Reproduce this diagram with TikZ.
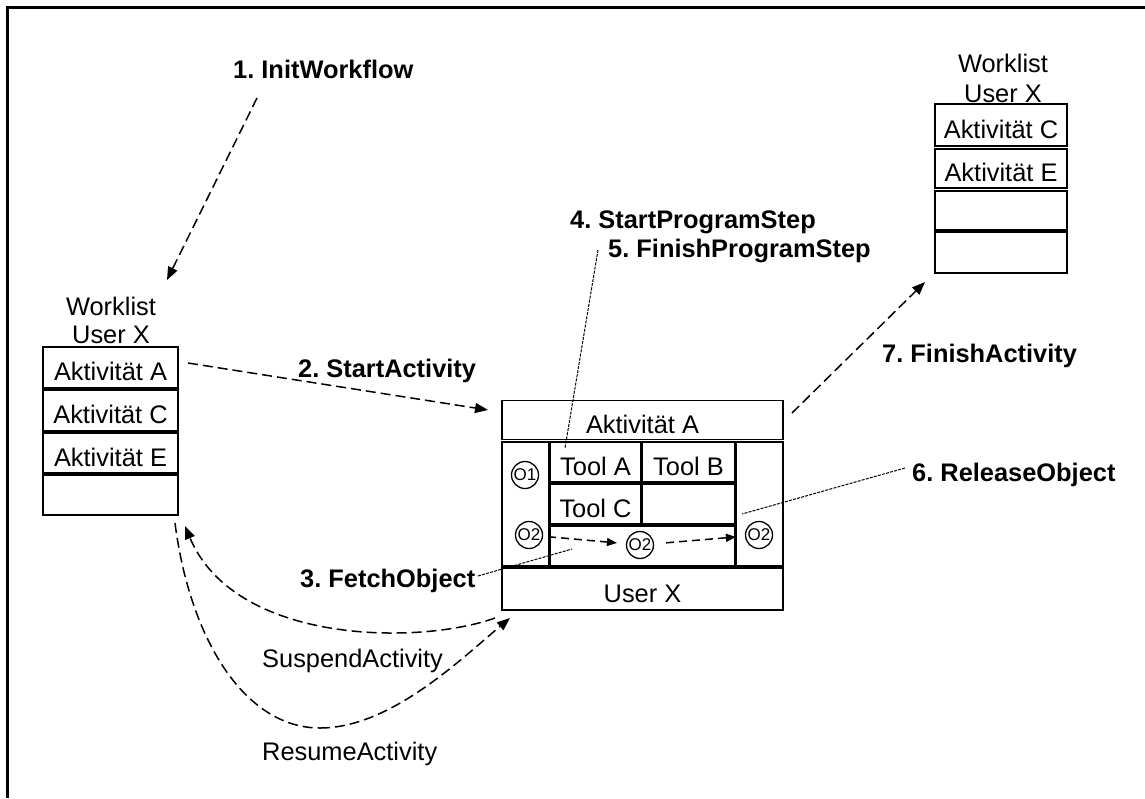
\documentclass[tikz,border=0pt]{standalone}
\usepackage{fontspec}
\setmainfont{Liberation Sans}
\usetikzlibrary{arrows.meta}
\frenchspacing
\begin{document}
\frenchspacing
\begin{tikzpicture}[x=1pt,y=-1pt,
  every node/.style={font=\fontsize{25.4}{28}\selectfont, inner sep=0pt},
  cell/.style={draw, line width=1.5pt, text height=26pt, text depth=0pt, anchor=center},
  lbl/.style={font=\fontsize{25.4}{28}\selectfont\bfseries, anchor=base west},
  plainlbl/.style={anchor=base west},
  headlbl/.style={anchor=base},
  obj/.style={draw, circle, line width=1.3pt, minimum size=27pt, font=\fontsize{17}{18}\selectfont},
  flow/.style={line width=1.5pt, dash pattern=on 10pt off 5pt, -{Triangle[length=13pt,width=10pt]}},
  smallflow/.style={line width=1.5pt, dash pattern=on 8pt off 5pt, -{Triangle[length=10pt,width=8pt]}},
  ref/.style={line width=1pt, dash pattern=on 3pt off 1.2pt},
]
\useasboundingbox (0,0) rectangle (1145,798);
% frame
\draw[line width=3pt] (7.5,798) -- (7.5,7.5) -- (1145,7.5);

% left worklist
\node[headlbl] (wlA) at (111,315) {Worklist};
\node[headlbl] (wlB) at (111,343) {User X};
\node[cell, minimum width=135pt, minimum height=41pt] (la) at (110.5,367.5) {Aktivität A};
\node[cell, minimum width=135pt, minimum height=41pt] (lc) at (110.5,410.5) {Aktivität C};
\node[cell, minimum width=135pt, minimum height=40pt] (le) at (110.5,453) {Aktivität E};
\node[cell, minimum width=135pt, minimum height=40pt] (lx) at (110.5,495) {};

% right worklist
\node[headlbl] (wrA) at (1003,72) {Worklist};
\node[headlbl] (wrB) at (1003,102) {User X};
\node[cell, minimum width=132pt, minimum height=42pt] (rc) at (1001,125) {Aktivität C};
\node[cell, minimum width=132pt, minimum height=39pt] (re) at (1001,168.5) {Aktivität E};
\node[cell, minimum width=132pt, minimum height=39pt] (r3) at (1001,210.5) {};
\node[cell, minimum width=132pt, minimum height=41pt] (r4) at (1001,252.5) {};

% central activity box
\node[cell, minimum width=281pt, minimum height=39pt] (act) at (642.5,420) {Aktivität A};
\node[cell, minimum width=281pt, minimum height=42pt] (usr) at (642.5,589) {User X};
\node[cell, minimum width=47pt, minimum height=124pt] (lcol) at (525.5,504) {};
\node[cell, minimum width=47pt, minimum height=124pt] (rcol) at (759.5,504) {};
\node[cell, minimum width=91pt, minimum height=40pt] (ta) at (595.5,462) {Tool A};
\node[cell, minimum width=93pt, minimum height=40pt] (tb) at (688.5,462) {Tool B};
\node[cell, minimum width=91pt, minimum height=40pt] (tc) at (595.5,504) {Tool C};
\node[cell, minimum width=93pt, minimum height=40pt] (te) at (688.5,504) {};
\node[cell, minimum width=185pt, minimum height=40pt] (orow) at (642.5,546) {};

\node[obj] (o1) at (525,475) {O1};
\node[obj] (o2l) at (529,535) {O2};
\node[obj] (o2m) at (640,545) {O2};
\node[obj] (o2r) at (759,535) {O2};

\draw[smallflow, shorten <=5pt, shorten >=9pt] (o2l) -- (o2m);
\draw[smallflow, shorten <=12pt, shorten >=9pt] (o2m) -- (o2r);

% labels
\node[lbl] (l1) at (233,78) {1. InitWorkflow};
\node[lbl] (l2) at (298,377) {2. StartActivity};
\node[lbl] (l3) at (300,587) {3. FetchObject};
\node[lbl] (l4) at (570,228) {4. StartProgramStep};
\node[lbl] (l5) at (608,257) {5. FinishProgramStep};
\node[lbl] (l6) at (912,481) {6. ReleaseObject};
\node[lbl] (l7) at (882,362) {7. FinishActivity};
\node[plainlbl] (ls) at (262,667) {SuspendActivity};
\node[plainlbl] (lr) at (262,760) {ResumeActivity};

% connector end points
\coordinate (a1s) at (257,98);
\coordinate (a1e) at (167,280);
\coordinate (a2s) at (188,363);
\coordinate (a2e) at (488,410);
\coordinate (a7s) at (792,413);
\coordinate (a7e) at (925,282);
\coordinate (sus) at (495,618);
\coordinate (sue) at (185,526);
\coordinate (res) at (175,523);
\coordinate (rem) at (320,728);
\coordinate (ree) at (510,618);
\coordinate (r45s) at (598,250);
\coordinate (r45e) at (565,448);
\coordinate (r3s) at (478,576);
\coordinate (r3e) at (572,549);
\coordinate (r6s) at (905,468);
\coordinate (r6e) at (742,514);

% dashed flow arrows
\draw[flow] (a1s) -- (a1e);
\draw[flow] (a2s) -- (a2e);
\draw[flow] (a7s) -- (a7e);
\draw[flow] (sus) .. controls (420,645) and (235,645) .. (sue);
\draw[line width=1.5pt, dash pattern=on 10pt off 5pt] (res) .. controls (190,640) and (245,728) .. (rem);
\draw[flow] (rem) .. controls (390,728) and (460,660) .. (ree);

% fine reference lines
\draw[ref] (r45s) -- (r45e);
\draw[ref] (r3s) -- (r3e);
\draw[ref] (r6s) -- (r6e);
\end{tikzpicture}
\end{document}
